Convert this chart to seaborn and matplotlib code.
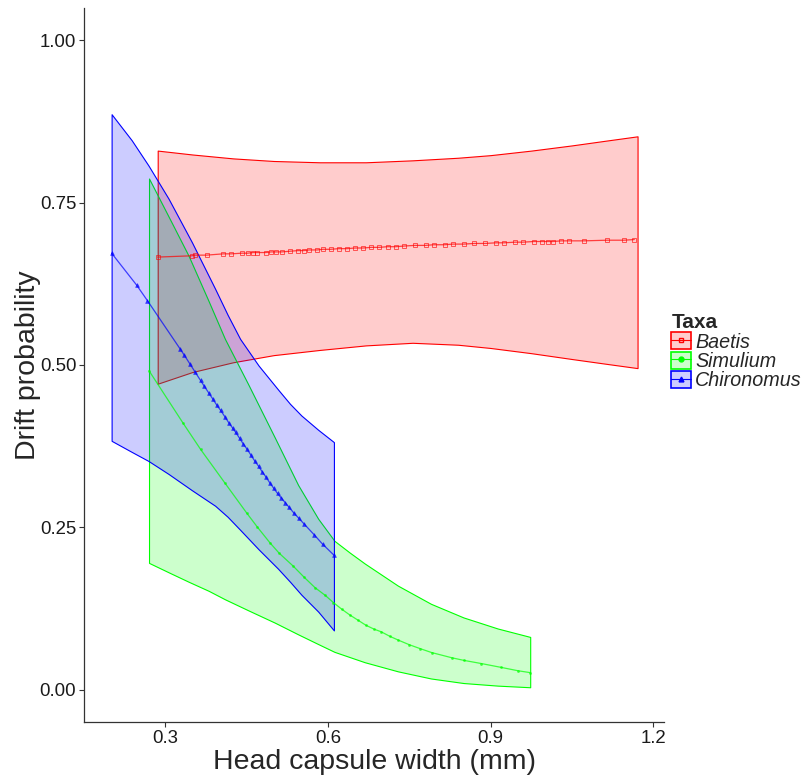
import numpy as np
import pandas as pd
import matplotlib
matplotlib.use("Agg")
import matplotlib.pyplot as plt
import seaborn as sns
from matplotlib.patches import Patch
from matplotlib.lines import Line2D
from matplotlib.colors import to_rgb

taxa = ["Baetis", "Simulium", "Chironomus"]
taxa_colors = ["#FF0000", "#00FF00", "#0000FF"]
taxa_markers = ["s", "o", "^"]

# confidence ribbons
baetis_x = [0.286, 0.35, 0.425, 0.5, 0.585, 0.67, 0.756, 0.84, 0.9, 0.975, 1.05, 1.11, 1.171]
baetis_lo = [0.471, 0.489, 0.504, 0.515, 0.523, 0.530, 0.534, 0.531, 0.526, 0.518, 0.509, 0.502, 0.495]
baetis_hi = [0.830, 0.824, 0.818, 0.814, 0.812, 0.812, 0.815, 0.819, 0.823, 0.830, 0.838, 0.845, 0.852]

simulium_x = [0.270, 0.310, 0.343, 0.380, 0.410, 0.453, 0.502, 0.545, 0.582, 0.612, 0.640,
              0.668, 0.729, 0.79, 0.85, 0.913, 0.973]
simulium_lo = [0.195, 0.179, 0.166, 0.152, 0.139, 0.122, 0.103, 0.085, 0.070, 0.058, 0.050,
               0.042, 0.028, 0.017, 0.010, 0.006, 0.0035]
simulium_hi = [0.787, 0.722, 0.668, 0.598, 0.540, 0.470, 0.388, 0.315, 0.263, 0.229, 0.211,
               0.194, 0.160, 0.132, 0.111, 0.094, 0.081]

chiro_x = [0.201, 0.238, 0.269, 0.306, 0.349, 0.392, 0.415, 0.438, 0.472, 0.508, 0.530, 0.551,
           0.582, 0.611]
chiro_lo = [0.383, 0.366, 0.352, 0.332, 0.307, 0.283, 0.266, 0.246, 0.216, 0.186, 0.166, 0.146,
            0.120, 0.091]
chiro_hi = [0.886, 0.846, 0.807, 0.756, 0.689, 0.617, 0.577, 0.540, 0.499, 0.462, 0.440, 0.422,
            0.400, 0.381]

# fitted probabilities at the observed head widths
baetis_obs_x = [0.286, 0.349, 0.354, 0.376, 0.407, 0.422, 0.441, 0.452, 0.462, 0.470, 0.485, 0.495,
                0.505, 0.515, 0.530, 0.545, 0.555, 0.565, 0.580, 0.590, 0.605, 0.620, 0.635, 0.650,
                0.665, 0.680, 0.695, 0.710, 0.725, 0.740, 0.760, 0.780, 0.795, 0.815, 0.830, 0.850,
                0.870, 0.890, 0.910, 0.925, 0.945, 0.960, 0.980, 0.995, 1.006, 1.015, 1.030, 1.045,
                1.072, 1.115, 1.146, 1.165]
baetis_obs_p = [0.666, 0.668, 0.669, 0.669, 0.671, 0.671, 0.672, 0.672, 0.673, 0.673, 0.673, 0.674,
                0.674, 0.674, 0.675, 0.676, 0.676, 0.677, 0.677, 0.678, 0.678, 0.679, 0.679, 0.680,
                0.680, 0.681, 0.681, 0.682, 0.682, 0.683, 0.684, 0.684, 0.685, 0.685, 0.686, 0.686,
                0.687, 0.687, 0.688, 0.688, 0.689, 0.689, 0.690, 0.690, 0.690, 0.690, 0.691, 0.691,
                0.691, 0.692, 0.692, 0.693]

simulium_obs_x = [0.270, 0.333, 0.365, 0.410, 0.450, 0.470, 0.493, 0.510, 0.536, 0.556, 0.576, 0.595,
                  0.610, 0.625, 0.640, 0.655, 0.670, 0.685, 0.698, 0.714, 0.730, 0.750, 0.770, 0.791,
                  0.828, 0.850, 0.883, 0.920, 0.950, 0.973]
simulium_obs_p = [0.491, 0.410, 0.370, 0.318, 0.272, 0.250, 0.226, 0.210, 0.190, 0.173, 0.157, 0.145,
                  0.134, 0.124, 0.115, 0.107, 0.099, 0.093, 0.089, 0.082, 0.076, 0.069, 0.063, 0.057,
                  0.049, 0.045, 0.040, 0.034, 0.029, 0.026]

chiro_obs_x = [0.201, 0.247, 0.267, 0.327, 0.335, 0.345, 0.355, 0.365, 0.372, 0.380, 0.388, 0.395,
               0.402, 0.410, 0.417, 0.424, 0.430, 0.437, 0.444, 0.451, 0.458, 0.465, 0.472, 0.479,
               0.486, 0.493, 0.500, 0.507, 0.514, 0.521, 0.528, 0.537, 0.546, 0.556, 0.575, 0.590,
               0.611]
chiro_obs_p = [0.672, 0.623, 0.599, 0.525, 0.515, 0.502, 0.489, 0.476, 0.467, 0.457, 0.447, 0.438,
               0.430, 0.420, 0.411, 0.403, 0.396, 0.387, 0.378, 0.370, 0.361, 0.352, 0.344, 0.335,
               0.327, 0.318, 0.310, 0.302, 0.295, 0.288, 0.281, 0.272, 0.264, 0.255, 0.238, 0.224,
               0.207]

ribbons = [(baetis_x, baetis_lo, baetis_hi),
           (simulium_x, simulium_lo, simulium_hi),
           (chiro_x, chiro_lo, chiro_hi)]
fits = pd.concat([
    pd.DataFrame({"width": baetis_obs_x, "prob": baetis_obs_p, "Taxa": "Baetis"}),
    pd.DataFrame({"width": simulium_obs_x, "prob": simulium_obs_p, "Taxa": "Simulium"}),
    pd.DataFrame({"width": chiro_obs_x, "prob": chiro_obs_p, "Taxa": "Chironomus"}),
], ignore_index=True)

sns.set_theme(style="ticks")
plt.rcParams["font.family"] = ["Liberation Sans", "DejaVu Sans"]

fig, ax = plt.subplots(figsize=(8.05, 7.75), dpi=100)
fig.subplots_adjust(left=0.1043, right=0.825, bottom=0.0684, top=0.99)

for (rx, lo, hi), c in zip(ribbons, taxa_colors):
    ax.fill_between(rx, lo, hi, facecolor=(*to_rgb(c), 0.2), edgecolor=c, linewidth=0.8)

for t, c, m in zip(taxa, taxa_colors, taxa_markers):
    sub = fits[fits["Taxa"] == t]
    if m == "s":
        mkw = dict(markersize=2.6, markerfacecolor="none", markeredgecolor=c, markeredgewidth=0.6)
    elif m == "o":
        mkw = dict(markersize=1.6, markerfacecolor=c, markeredgecolor=c, markeredgewidth=0.3)
    else:
        mkw = dict(markersize=2.8, markerfacecolor=c, markeredgecolor=c, markeredgewidth=0.4)
    sns.lineplot(data=sub, x="width", y="prob", color=c, marker=m, linewidth=0.9,
                 alpha=0.7, ax=ax, legend=False, **mkw)

ax.set_xlim(0.150, 1.220)
ax.set_ylim(-0.05, 1.05)
ax.set_xticks([0.3, 0.6, 0.9, 1.2])
ax.set_xticklabels(["0.3", "0.6", "0.9", "1.2"])
ax.set_yticks([0.0, 0.25, 0.5, 0.75, 1.0])
ax.set_yticklabels(["0.00", "0.25", "0.50", "0.75", "1.00"])
ax.tick_params(axis="both", length=3.5, width=0.8, color="#333333",
               labelsize=13.4, labelcolor="#1a1a1a", pad=2)
for side in ["left", "bottom"]:
    ax.spines[side].set_linewidth(0.9)
    ax.spines[side].set_color("#333333")
sns.despine(ax=ax)

ax.set_xlabel("Head capsule width (mm)", fontsize=20.5, labelpad=2)
ax.set_ylabel("Drift probability", fontsize=20.5, labelpad=-1)

handles = []
for c, m in zip(taxa_colors, taxa_markers):
    patch = Patch(facecolor=(*to_rgb(c), 0.2), edgecolor=c, linewidth=1.2)
    mfc = "none" if m == "s" else c
    line = Line2D([], [], color=c, marker=m, markersize=3.5, markerfacecolor=mfc,
                  markeredgecolor=c, linewidth=0.8)
    handles.append((patch, line))

ax.legend(handles, taxa, title="Taxa", loc="center left",
          bbox_to_anchor=(0.834, 0.546), bbox_transform=fig.transFigure,
          frameon=False, prop={"style": "italic", "size": 14.2},
          title_fontproperties={"weight": "bold", "size": 15},
          handlelength=1.0, handleheight=0.95, handletextpad=0.2,
          labelspacing=0.0, alignment="left", borderpad=0, borderaxespad=0)

fig.savefig("out.png", dpi=100)
